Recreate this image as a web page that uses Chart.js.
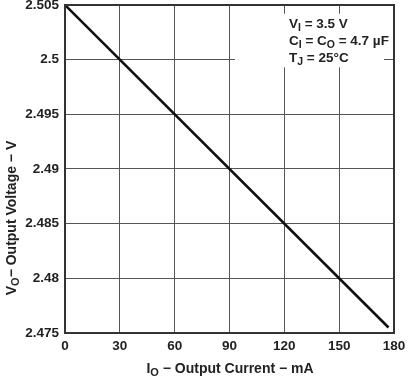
<!DOCTYPE html>
<html>
<head>
<meta charset="utf-8">
<script src="https://cdn.jsdelivr.net/npm/chart.js@4.4.1/dist/chart.umd.min.js"></script>
<style>
html,body{margin:0;padding:0;background:#fff;}
#wrap{width:408px;height:377px;position:relative;}
</style>
</head>
<body>
<div id="wrap"><canvas id="c" width="408" height="377"></canvas></div>
<script>
// Data
const currentMA = [0, 177];            // I_O, mA
const outputVoltage = [2.505, 2.4755]; // V_O, V
const xTickValues = [0, 30, 60, 90, 120, 150, 180];
const xTickLabels = ['0', '30', '60', '90', '120', '150', '180'];
const yTickValues = [2.475, 2.48, 2.485, 2.49, 2.495, 2.5, 2.505];
const yTickLabels = ['2.475', '2.48', '2.485', '2.49', '2.495', '2.5', '2.505'];
const xTitleRuns = [['I', 0], ['O', 1], [' \u2212 Output Current \u2212 mA', 0]];
const yTitleRuns = [['V', 0], ['O', 1], ['\u2212 Output Voltage \u2212 V', 0]];
const noteLines = [
  [['V', 0], ['I', 1], [' = 3.5 V', 0]],
  [['C', 0], ['I', 1], [' = C', 0], ['O', 1], [' = 4.7 \u00b5F', 0]],
  [['T', 0], ['J', 1], [' = 25\u00b0C', 0]]
];

const FONT = '"Liberation Sans", Arial, sans-serif';
const points = currentMA.map((x, i) => ({x: x, y: outputVoltage[i]}));

function runsWidth(ctx, runs, size, subSize) {
  let w = 0;
  runs.forEach(r => {
    ctx.font = 'bold ' + (r[1] ? subSize : size) + 'px ' + FONT;
    w += ctx.measureText(r[0]).width;
  });
  return w;
}
function drawRuns(ctx, runs, x, y, size, subSize, subDrop) {
  ctx.textBaseline = 'alphabetic';
  ctx.textAlign = 'left';
  runs.forEach(r => {
    ctx.font = 'bold ' + (r[1] ? subSize : size) + 'px ' + FONT;
    ctx.fillText(r[0], x, y + (r[1] ? subDrop : 0));
    x += ctx.measureText(r[0]).width;
  });
}

const decor = {
  id: 'decor',
  beforeDatasetsDraw(chart) {
    const ctx = chart.ctx;
    const xs = chart.scales.x, ys = chart.scales.y;
    ctx.save();
    ctx.fillStyle = '#fff';
    const x0 = xs.getPixelForValue(93), x1 = xs.getPixelForValue(174.5);
    const y0 = ys.getPixelForValue(2.5042), y1 = ys.getPixelForValue(2.4993);
    ctx.fillRect(x0, y0, x1 - x0, y1 - y0);
    ctx.restore();
  },
  afterDraw(chart) {
    const ctx = chart.ctx;
    const a = chart.chartArea;
    ctx.save();
    ctx.strokeStyle = '#333';
    ctx.lineWidth = 2;
    ctx.strokeRect(a.left, a.top, a.right - a.left, a.bottom - a.top);
    ctx.fillStyle = '#222';
    noteLines.forEach((runs, i) => {
      drawRuns(ctx, runs, 289, 28 + i * 17, 13.5, 10.5, 3);
    });
    const wx = runsWidth(ctx, xTitleRuns, 14, 11);
    drawRuns(ctx, xTitleRuns, 230 - wx / 2, 373, 14, 11, 3);
    const wy = runsWidth(ctx, yTitleRuns, 14, 11);
    ctx.translate(16, 218);
    ctx.rotate(-Math.PI / 2);
    drawRuns(ctx, yTitleRuns, -wy / 2, 0, 14, 11, 3);
    ctx.restore();
  }
};

new Chart(document.getElementById('c'), {
  type: 'scatter',
  data: {
    datasets: [{
      data: points,
      showLine: true,
      borderColor: '#111',
      borderWidth: 2.6,
      pointRadius: 0,
      fill: false
    }]
  },
  options: {
    responsive: false,
    animation: false,
    layout: {padding: {left: 0, right: 14, top: 5, bottom: 0}},
    plugins: {legend: {display: false}, tooltip: {enabled: false}},
    scales: {
      x: {
        type: 'linear', min: 0, max: 180,
        afterBuildTicks(s) { s.ticks = xTickValues.map(v => ({value: v})); },
        afterFit(s) { s.height = 44; s.paddingLeft = 0; s.paddingRight = 0; },
        ticks: {
          padding: 5, color: '#222', maxRotation: 0,
          font: {family: FONT, size: 13.5, weight: 'bold'},
          callback: (v, i) => xTickLabels[i]
        },
        grid: {color: '#555', lineWidth: 1, drawTicks: false},
        border: {display: false}
      },
      y: {
        type: 'linear', min: 2.475, max: 2.505,
        afterBuildTicks(s) { s.ticks = yTickValues.map(v => ({value: v})); },
        afterFit(s) { s.width = 65; s.paddingTop = 0; s.paddingBottom = 0; },
        ticks: {
          padding: 6, color: '#222',
          font: {family: FONT, size: 13.5, weight: 'bold'},
          callback: (v, i) => yTickLabels[i]
        },
        grid: {color: '#555', lineWidth: 1, drawTicks: false},
        border: {display: false}
      }
    }
  },
  plugins: [decor]
});
</script>
</body>
</html>
